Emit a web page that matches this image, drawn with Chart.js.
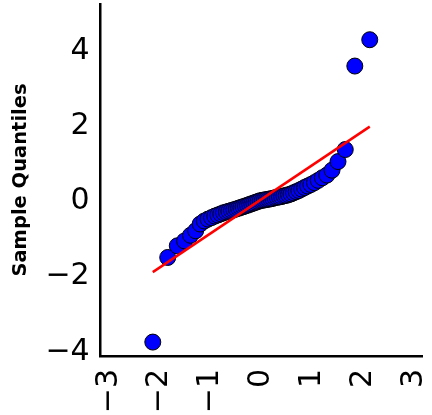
<!DOCTYPE html>
<html>
<head>
<meta charset="utf-8">
<script src="https://cdn.jsdelivr.net/npm/chart.js@4"></script>
<style>
  html, body { margin: 0; padding: 0; background: #fff; }
  #wrap { width: 432px; height: 415px; position: relative; }
</style>
</head>
<body>
<div id="wrap"><canvas id="qq"></canvas></div>
<script>
// theoretical normal quantiles (x) and sorted sample values (y)
const theoQuantiles = [
  -2.135, -1.841, -1.653, -1.510, -1.392, -1.291, -1.202, -1.121, -1.047, -0.978,
  -0.914, -0.854, -0.796, -0.741, -0.687, -0.636, -0.586, -0.538, -0.491, -0.446,
  -0.401, -0.357, -0.313, -0.270, -0.228, -0.186, -0.145, -0.103, -0.062, -0.021,
  0.021, 0.062, 0.103, 0.145, 0.186, 0.228, 0.270, 0.313, 0.357, 0.401,
  0.446, 0.491, 0.538, 0.586, 0.636, 0.687, 0.741, 0.796, 0.854, 0.914,
  0.978, 1.047, 1.121, 1.202, 1.291, 1.392, 1.510, 1.653, 1.841, 2.135
];
const sampleQuantiles = [
  -3.82, -1.57, -1.26, -1.13, -0.98, -0.86, -0.68, -0.60, -0.55, -0.51,
  -0.47, -0.44, -0.41, -0.38, -0.36, -0.34, -0.32, -0.30, -0.28, -0.26,
  -0.24, -0.22, -0.20, -0.18, -0.16, -0.14, -0.12, -0.10, -0.08, -0.06,
  -0.05, -0.04, -0.03, -0.02, -0.01, 0.00, 0.02, 0.03, 0.04, 0.05,
  0.07, 0.08, 0.10, 0.12, 0.15, 0.18, 0.21, 0.25, 0.29, 0.33,
  0.37, 0.42, 0.48, 0.55, 0.62, 0.75, 0.98, 1.30, 3.52, 4.22
];
// fitted reference line end points
const lineX = [-2.135, 2.135];
const lineY = [-1.96, 1.91];

const xTicks = [-3, -2, -1, 0, 1, 2, 3];
const yTicks = [-4, -2, 0, 2, 4];

const fmt = v => (v < 0 ? '\u2212' + Math.abs(v) : String(v));

const points = theoQuantiles.map((x, i) => ({ x: x, y: sampleQuantiles[i] }));
const fitLine = lineX.map((x, i) => ({ x: x, y: lineY[i] }));

const tickFont = { family: 'DejaVu Sans', size: 30 };

new Chart(document.getElementById('qq'), {
  type: 'scatter',
  data: {
    datasets: [
      {
        // first dataset is drawn on top
        data: fitLine,
        showLine: true,
        borderColor: '#ff0000',
        borderWidth: 2.5,
        pointRadius: 0,
        fill: false
      },
      {
        data: points,
        backgroundColor: '#0000ff',
        borderColor: '#000000',
        borderWidth: 1,
        pointRadius: 8
      }
    ]
  },
  options: {
    responsive: true,
    maintainAspectRatio: false,
    animation: false,
    layout: { autoPadding: false, padding: { top: 4, right: 9.4, left: 0, bottom: 0 } },
    plugins: { legend: { display: false }, tooltip: { enabled: false } },
    scales: {
      x: {
        type: 'linear',
        min: -3.16,
        max: 3.175,
        afterBuildTicks: s => { s.ticks = xTicks.map(v => ({ value: v })); },
        afterFit: s => { s.height = 59; s.paddingLeft = 0; s.paddingRight = 0; },
        grid: { display: false, drawTicks: false },
        border: { display: true, color: '#000', width: 2.5 },
        ticks: {
          autoSkip: false,
          minRotation: 90,
          maxRotation: 90,
          padding: 13,
          color: '#000',
          font: tickFont,
          callback: v => fmt(v)
        }
      },
      y: {
        type: 'linear',
        min: -4.19,
        max: 5.17,
        afterBuildTicks: s => { s.ticks = yTicks.map(v => ({ value: v })); },
        afterFit: s => { s.width = 100.7; s.paddingTop = 0; s.paddingBottom = 0; },
        grid: { display: false, drawTicks: false },
        border: { display: true, color: '#000', width: 2.5 },
        ticks: {
          autoSkip: false,
          padding: 11,
          labelOffset: 3,
          color: '#000',
          font: tickFont,
          callback: v => fmt(v)
        },
        title: {
          display: true,
          text: 'Sample Quantiles',
          color: '#000',
          font: { family: 'DejaVu Sans', size: 19.5, weight: 'bold' },
          padding: { top: 9, bottom: 0 }
        }
      }
    }
  }
});
</script>
</body>
</html>
